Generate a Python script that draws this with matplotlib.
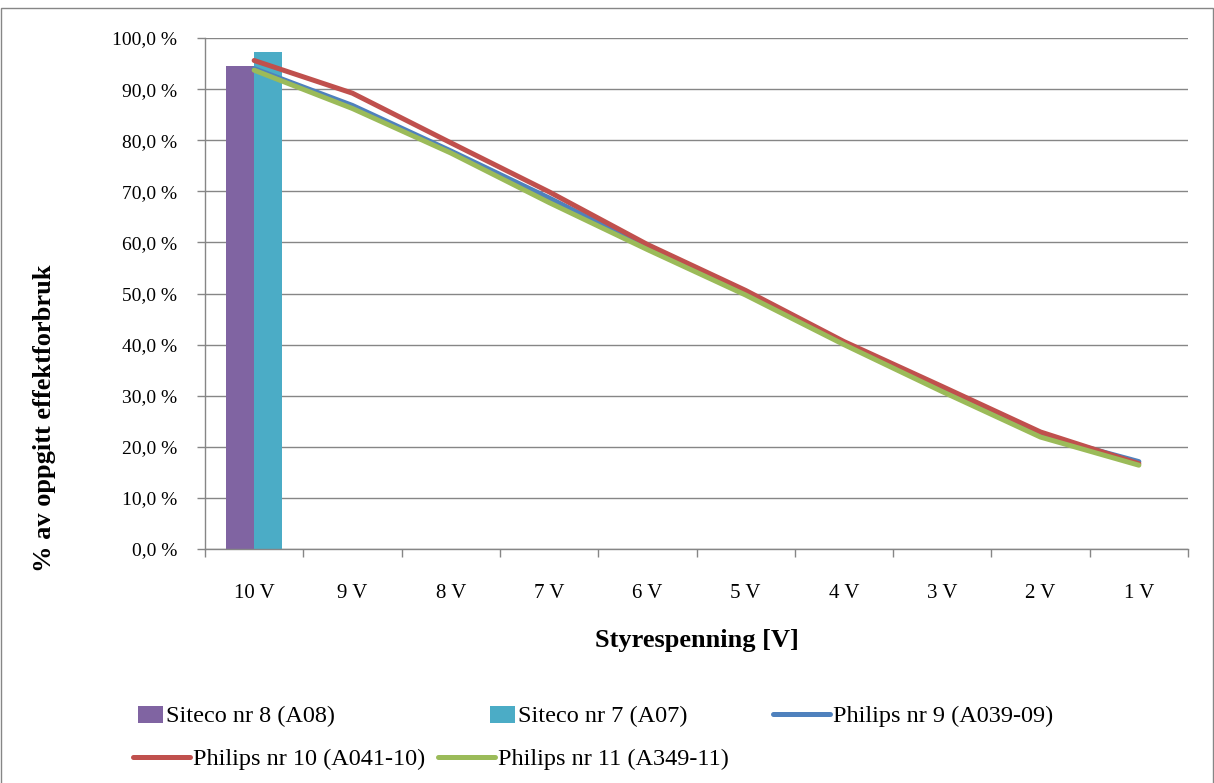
import numpy as np
import matplotlib
matplotlib.use("Agg")
import matplotlib.pyplot as plt
from matplotlib.patches import Rectangle
from matplotlib.legend_handler import HandlerPatch

plt.rcParams['font.family'] = ['Liberation Serif', 'DejaVu Serif']

categories = ["10 V", "9 V", "8 V", "7 V", "6 V", "5 V", "4 V", "3 V", "2 V", "1 V"]
siteco8 = [94.6]   # only measured at 10 V
siteco7 = [97.3]   # only measured at 10 V
philips9 = [94.0, 86.8, 77.9, 68.7, 59.0, 50.0, 40.3, 31.0, 22.3, 17.1]
philips10 = [95.6, 89.2, 79.5, 69.9, 59.6, 50.6, 40.6, 31.8, 22.9, 16.7]
philips11 = [93.7, 86.2, 77.5, 67.8, 58.6, 49.7, 40.0, 30.8, 21.9, 16.4]
yticks = [0, 10, 20, 30, 40, 50, 60, 70, 80, 90, 100]
ytick_labels = ["0,0 %", "10,0 %", "20,0 %", "30,0 %", "40,0 %", "50,0 %",
                "60,0 %", "70,0 %", "80,0 %", "90,0 %", "100,0 %"]

c_purple = '#8064A2'
c_cyan = '#4BACC6'
c_blue = '#4F81BD'
c_red = '#C0504D'
c_green = '#9BBB59'
grey = '#868686'

W, H = 1214, 783
fig = plt.figure(figsize=(W / 100, H / 100), dpi=100)
fig.add_artist(Rectangle((0.5 / W, -0.02), (W - 1.5) / W, 1.02 - 8 / H,
                         transform=fig.transFigure, fill=False,
                         edgecolor=grey, linewidth=1))

ax = fig.add_axes([205 / W, 1 - 549 / H, (1188 - 205) / W, (549 - 38) / H])
x = np.arange(len(categories))
bw = 0.285

b1 = ax.bar(x[:1] - bw / 2, siteco8, bw, color=c_purple, zorder=2,
            label="Siteco nr 8 (A08)")
b2 = ax.bar(x[:1] + bw / 2, siteco7, bw, color=c_cyan, zorder=2,
            label="Siteco nr 7 (A07)")
lw = 3.6
l1, = ax.plot(x, philips9, color=c_blue, lw=lw, solid_capstyle='round',
              solid_joinstyle='round', zorder=3, label="Philips nr 9 (A039-09)")
l2, = ax.plot(x, philips10, color=c_red, lw=lw, solid_capstyle='round',
              solid_joinstyle='round', zorder=3, label="Philips nr 10 (A041-10)")
l3, = ax.plot(x, philips11, color=c_green, lw=lw, solid_capstyle='round',
              solid_joinstyle='round', zorder=3, label="Philips nr 11 (A349-11)")

ax.set_xlim(-0.5, len(categories) - 0.5)
ax.set_ylim(0, 100)
ax.set_yticks(yticks)
ax.set_yticklabels(ytick_labels)
ax.set_xticks(x)
ax.set_xticklabels(categories)
ax.set_xticks(np.arange(-0.5, len(categories)), minor=True)
ax.tick_params(axis='x', which='major', length=0, pad=25, labelsize=15)
ax.tick_params(axis='x', which='minor', length=6, width=1, color=grey, direction='out')
ax.tick_params(axis='y', which='major', length=6, width=1, color=grey,
               direction='out', pad=14, labelsize=14)
ax.grid(axis='y', color=grey, linewidth=1, zorder=0)
ax.set_axisbelow(True)
for s in ['top', 'right']:
    ax.spines[s].set_visible(False)
for s in ['left', 'bottom']:
    ax.spines[s].set_color(grey)
    ax.spines[s].set_linewidth(1)

fig.text(45 / W, 1 - 418 / H, "% av oppgitt effektforbruk", rotation=90,
         ha='center', va='center', fontsize=19, fontweight='bold')
fig.text(697 / W, 1 - 640 / H, "Styrespenning [V]", ha='center', va='center',
         fontsize=19, fontweight='bold')


def small_rect(legend, orig_handle, xdescent, ydescent, width, height, fontsize):
    w = 0.44 * width
    return Rectangle((width - w - xdescent, -ydescent - 0.05 * height), w, height * 1.0)


leg_fs = 17.5
entries = [
    (b1.patches[0], "Siteco nr 8 (A08)", 106, 716),
    (b2.patches[0], "Siteco nr 7 (A07)", 458, 716),
    (l1, "Philips nr 9 (A039-09)", 773, 716),
    (l2, "Philips nr 10 (A041-10)", 133, 759),
    (l3, "Philips nr 11 (A349-11)", 438, 759),
]
for h, lab, px, py in entries:
    leg = fig.legend([h], [lab], loc='center left',
                     bbox_to_anchor=(px / W, 1 - py / H),
                     bbox_transform=fig.transFigure, frameon=False,
                     fontsize=leg_fs, handlelength=2.35, handletextpad=0.12,
                     borderaxespad=0, borderpad=0,
                     handler_map={Rectangle: HandlerPatch(patch_func=small_rect)})

fig.savefig("out.png", dpi=100)
